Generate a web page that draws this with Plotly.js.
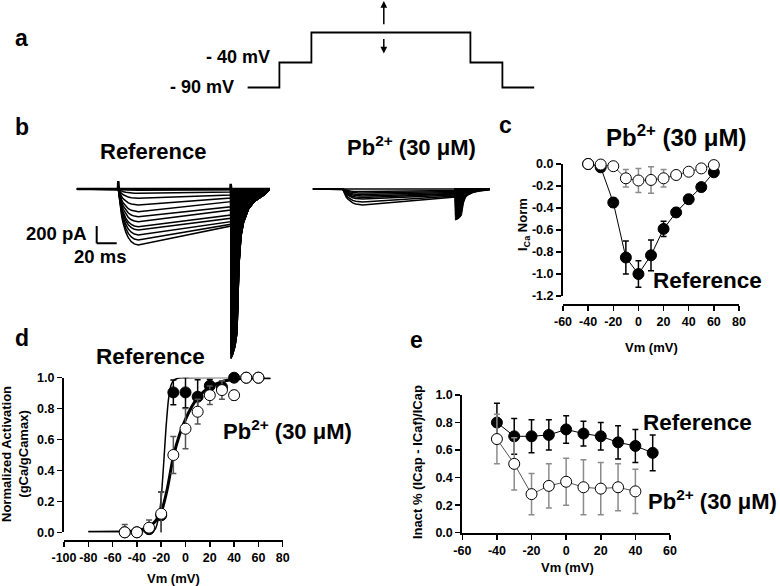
<!DOCTYPE html>
<html>
<head>
<meta charset="utf-8">
<script src="https://cdn.plot.ly/plotly-3.0.1.min.js"></script>
<style>
  html, body { margin: 0; padding: 0; background: #fff; }
  #plot { width: 780px; height: 586px; }
</style>
</head>
<body>
<div id="plot"></div>
<script>
const W = 780, H = 586;
const FONT = 'Arial, "Liberation Sans", sans-serif';

// a: voltage protocol (ms, mV)
const protoT = [0, 32, 32, 64, 64, 223, 223, 255, 255, 287];
const protoV = [-90, -90, -40, -40, 20, 20, -40, -40, -90, -90];

// b: current traces (pA), sorted by size
const refPeak = [-15, -50, -107, -184, -261, -318, -376, -434, -472, -529, -587, -644];
const refEnd  = [-10, -35, -69, -104, -146, -204, -242, -299, -337, -376, -406, -426];
const refTail = [-1300, -1600, -1950, -1900, -1850, -1940, -1800, -1900, -1750, -1940, -1850, -1950];
const pbPeak = [-29, -46, -63, -80, -98, -115, -150, -184];
const pbEnd  = [-17, -29, -40, -52, -58, -69, -80, -92];
const pbTail = [-60, -90, -120, -160, -200, -240, -300, -357];
// time course (fraction of peak / of tail)
const actT = [0, 1, 2, 3.5, 5, 7.5, 10, 13, 16, 20];
const actF = [0, 0.15, 0.32, 0.5, 0.62, 0.77, 0.87, 0.94, 0.98, 1.0];
const tailT = [0.4, 2, 4.5, 6.5, 7.5, 8.5, 10.5, 13, 18, 24, 34, 40];
const tailF = [1, 0.98, 0.93, 0.85, 0.7, 0.45, 0.28, 0.2, 0.12, 0.075, 0.035, 0];
const refArtT = [0, 41.2, 41.6, 42.2, 153.6, 154, 154.6, 193.3];
const refArtI = [0, 0, 90, 0, 0, 60, 0, 0];

// c: normalized I-V
const cV = [-40, -30, -20, -10, 0, 10, 20, 30, 40, 50, 60];
const cRef = [0.0, -0.03, -0.35, -0.85, -1.0, -0.83, -0.59, -0.44, -0.32, -0.21, -0.075];
const cRefErr = [0, 0.01, 0.04, 0.15, 0.12, 0.14, 0.07, 0.04, 0.04, 0.03, 0.02];
const cPb = [0.0, -0.005, -0.02, -0.13, -0.15, -0.145, -0.13, -0.10, -0.07, -0.04, -0.01];
const cPbErr = [0, 0, 0, 0.08, 0.11, 0.12, 0.08, 0.02, 0, 0, 0];
const cXTicks = [-60, -40, -20, 0, 20, 40, 60, 80];
const cYTicks = [0, -0.2, -0.4, -0.6, -0.8, -1.0, -1.2];
const cYText = ["0.0", "-0.2", "-0.4", "-0.6", "-0.8", "-1.0", "-1.2"];

// d: activation
const dV = [-50, -40, -30, -20, -10, 0, 10, 20, 30, 40, 50, 60];
const dRef = [0, 0, 0.02, 0.11, 0.905, 0.905, 0.877, 0.948, 0.94, 1.0, 1.0, 1.0];
const dRefErr = [0, 0, 0.03, 0.15, 0.08, 0.1, 0.11, 0.04, 0.03, 0, 0, 0];
const dPb = [0.0, 0.0, 0.03, 0.12, 0.50, 0.67, 0.78, 0.887, 0.92, 0.887, 1.0, 1.0];
const dPbErr = [0.05, 0.02, 0.05, 0.14, 0.12, 0.13, 0.08, 0.06, 0.06, 0.03, 0, 0];
const fitRefV = [-80, -40, -30, -25, -22, -20, -18, -16, -14, -12, -10, -7, -3, 70];
const fitRef = [0, 0, 0.002, 0.02, 0.1, 0.22, 0.44, 0.68, 0.86, 0.95, 0.98, 0.995, 1, 1];
const fitPbV = [-80, -50, -40, -30, -25, -20, -15, -10, -5, 0, 5, 10, 15, 20, 30, 40, 50, 70];
const fitPb = [0, 0.003, 0.01, 0.035, 0.07, 0.13, 0.28, 0.49, 0.63, 0.73, 0.81, 0.87, 0.91, 0.94, 0.975, 0.99, 0.998, 1.0];
const dXTicks = [-100, -80, -60, -40, -20, 0, 20, 40, 60, 80];
const unitTicks = [0, 0.2, 0.4, 0.6, 0.8, 1.0];
const unitText = ["0.0", "0.2", "0.4", "0.6", "0.8", "1.0"];

// e: inactivation
const eV = [-40, -30, -20, -10, 0, 10, 20, 30, 40, 50];
const eRef = [0.80, 0.70, 0.70, 0.71, 0.75, 0.72, 0.70, 0.656, 0.63, 0.58];
const eRefErr = [0.14, 0.13, 0.12, 0.11, 0.10, 0.09, 0.10, 0.12, 0.12, 0.13];
const ePbV = [-40, -30, -20, -10, 0, 10, 20, 30, 40];
const ePb = [0.68, 0.50, 0.28, 0.34, 0.37, 0.33, 0.32, 0.33, 0.30];
const ePbErr = [0.18, 0.19, 0.15, 0.16, 0.17, 0.2, 0.19, 0.17, 0.16];
const eXTicks = [-60, -40, -20, 0, 20, 40, 60];

const PB = "Pb<sup>2+</sup> (30 μM)";

function hdom(a, b) { return [a / W, b / W]; }
function vdom(top, bottom) { return [1 - bottom / H, 1 - top / H]; }

// one sweep: baseline, activation, decay to end of step
function buildCurrent(peak, end, tOn, tOff, tStop, ax) {
  const x = [0, tOn], y = [0, 0];
  actT.forEach((dt, i) => { x.push(tOn + dt); y.push(peak * actF[i]); });
  x.push(tOff); y.push(end);
  x.push(tOff, tStop); y.push(0, 0);
  return {
    type: "scatter", mode: "lines", x, y, xaxis: "x" + ax, yaxis: "y" + ax,
    line: { color: "black", width: 1.5 }, hoverinfo: "skip"
  };
}

// tail current of a sweep, drawn as a filled area down from baseline
function buildTail(end, tail, tOff, ax) {
  const x = [tOff, tOff], y = [0, end];
  tailT.forEach((dt, i) => { x.push(tOff + dt); y.push(tail * tailF[i]); });
  return {
    type: "scatter", mode: "lines", x, y, xaxis: "x" + ax, yaxis: "y" + ax,
    fill: "toself", fillcolor: "black",
    line: { color: "black", width: 1 }, hoverinfo: "skip"
  };
}

function errTrace(x, y, err, ax, filled, opts) {
  return Object.assign({
    type: "scatter", mode: "markers", x, y, xaxis: "x" + ax, yaxis: "y" + ax,
    cliponaxis: false,
    marker: {
      size: 11, color: filled ? "black" : "white",
      line: { color: "black", width: 1 }
    },
    error_y: { type: "data", array: err, visible: true,
      color: filled ? "black" : "#8c8c8c", thickness: 1.5, width: 3 },
  }, opts || {});
}

const tickFont = { family: FONT, size: 12.5, color: "black", weight: "bold" };

function axis(extra) {
  return Object.assign({
    showline: true, linewidth: 2, linecolor: "black",
    ticks: "outside", ticklen: 5, tickwidth: 1.5, tickcolor: "black",
    showgrid: false, zeroline: false, tickfont: tickFont, tickangle: 0,
    fixedrange: true
  }, extra);
}

function hidden(extra) {
  return Object.assign({ visible: false, fixedrange: true }, extra);
}

const traces = [];

// a
traces.push({ type: "scatter", mode: "lines", x: protoT, y: protoV, xaxis: "x", yaxis: "y",
  line: { color: "black", width: 1.8 }, hoverinfo: "skip" });

// b
traces.push({ type: "scatter", mode: "lines", x: refArtT, y: refArtI, xaxis: "x2", yaxis: "y2",
  line: { color: "black", width: 2.5 }, hoverinfo: "skip" });
refPeak.forEach((p, i) => {
  traces.push(buildCurrent(p, refEnd[i], 41.6, 154, 193.3, 2));
  traces.push(buildTail(refEnd[i], refTail[i], 154, 2));
});
traces.push({ type: "scatter", mode: "lines", x: [0, 177.3], y: [0, 0], xaxis: "x3", yaxis: "y3",
  line: { color: "black", width: 1.5 }, hoverinfo: "skip" });
pbPeak.forEach((p, i) => {
  traces.push(buildCurrent(p, pbEnd[i], 30, 142.3, 177.3, 3));
  traces.push(buildTail(pbEnd[i], pbTail[i], 142.3, 3));
});

// c
traces.push(errTrace(cV, cRef, cRefErr, 4, true, { mode: "lines+markers", line: { color: "black", width: 1 } }));
traces.push(errTrace(cV, cPb, cPbErr, 4, false, { mode: "lines+markers", line: { color: "#555", width: 1 } }));

// d
traces.push({ type: "scatter", mode: "lines", x: fitRefV, y: fitRef, xaxis: "x5", yaxis: "y5",
  line: { color: "black", width: 1.5, shape: "spline", smoothing: 0.6 }, hoverinfo: "skip" });
traces.push({ type: "scatter", mode: "lines", x: fitPbV, y: fitPb, xaxis: "x5", yaxis: "y5",
  line: { color: "black", width: 3, shape: "spline", smoothing: 0.6 }, hoverinfo: "skip" });
traces.push(errTrace(dV, dRef, dRefErr, 5, true));
traces.push(errTrace(dV, dPb, dPbErr, 5, false));
traces[traces.length - 1].error_y.color = "#555";

// e
traces.push(errTrace(eV, eRef, eRefErr, 6, true, { mode: "lines+markers", line: { color: "black", width: 1 } }));
traces.push(errTrace(ePbV, ePb, ePbErr, 6, false, { mode: "lines+markers", line: { color: "#555", width: 1 } }));

function txt(text, x, y, size, extra) {
  return Object.assign({
    text, x: x / W, y: 1 - y / H, xref: "paper", yref: "paper",
    xanchor: "center", yanchor: "middle", showarrow: false,
    font: { family: FONT, size, color: "black", weight: "bold" }
  }, extra || {});
}

function arrow(x, yTip, dy) {
  return { text: "", x: x / W, y: 1 - yTip / H, xref: "paper", yref: "paper",
    showarrow: true, ax: 0, ay: dy, arrowhead: 2, arrowsize: 0.9, arrowwidth: 1.5, arrowcolor: "black" };
}

const annotations = [
  txt("a", 21.4, 38, 23), txt("b", 21.7, 127, 23), txt("c", 505, 125, 23),
  txt("d", 21.7, 338, 23), txt("e", 416.7, 340, 23),
  txt("- 40 mV", 272, 57, 18, { xanchor: "right" }),
  txt("- 90 mV", 235.6, 87.5, 18, { xanchor: "right" }),
  arrow(383.8, 1, 24.7), arrow(383.8, 53.6, -16),
  txt("Reference", 153, 152, 22), txt(PB, 411, 146, 22),
  txt("200 pA", 89.3, 233.3, 18.5, { xanchor: "right" }),
  txt("20 ms", 100, 256.7, 18.5),
  txt(PB, 676, 136, 24), txt("Reference", 707, 280, 22.5),
  txt("I<sub>Ca</sub> Norm", 523, 225, 13, { textangle: -90 }),
  txt("Vm (mV)", 651.7, 347.7, 13),
  txt("Reference", 150, 356.7, 22.5), txt(PB, 287.5, 430, 22),
  txt("Normalized Activation<br>(gCa/gCamax)", 15, 454, 13, { textangle: -90 }),
  txt("Vm (mV)", 173.3, 578.3, 13),
  txt("Reference", 697, 422.3, 22.5), txt(PB, 712.8, 500, 22),
  txt("Inact % (ICap - ICaf)/ICap", 417, 462, 13, { textangle: -90 }),
  txt("Vm (mV)", 567.5, 567.7, 13)
];

const shapes = [
  { type: "line", xref: "x2", yref: "y2", x0: 20, x1: 20, y0: -425, y1: -625, line: { color: "black", width: 2 } },
  { type: "line", xref: "x2", yref: "y2", x0: 20, x1: 40, y0: -625, y1: -625, line: { color: "black", width: 2 } }
];

const bRange = [-1989.5, 218.5];

const layout = {
  width: W, height: H,
  margin: { l: 0, r: 0, t: 0, b: 0 },
  paper_bgcolor: "white", plot_bgcolor: "rgba(0,0,0,0)",
  showlegend: false,
  font: { family: FONT, color: "black" },
  xaxis: hidden({ domain: hdom(247.4, 534.4), range: [0, 287], anchor: "y" }),
  yaxis: hidden({ domain: vdom(10, 100), range: [-115, 65], anchor: "x" }),
  xaxis2: hidden({ domain: hdom(76.7, 270), range: [0, 193.3], anchor: "y2" }),
  yaxis2: hidden({ domain: vdom(170, 362), range: bRange, anchor: "x2" }),
  xaxis3: hidden({ domain: hdom(312.7, 490), range: [0, 177.3], anchor: "y3" }),
  yaxis3: hidden({ domain: vdom(170, 362), range: bRange, anchor: "x3" }),
  xaxis4: axis({ domain: hdom(563, 739), range: [-60, 80], anchor: "free", position: 1 - 305 / H,
    tickvals: cXTicks, ticktext: cXTicks.map(String) }),
  yaxis4: axis({ domain: vdom(164, 296), range: [-1.2, 0], anchor: "x4",
    tickvals: cYTicks, ticktext: cYText }),
  xaxis5: axis({ domain: hdom(64, 282.7), range: [-100, 80], anchor: "free", position: 1 - 541 / H,
    tickvals: dXTicks, ticktext: dXTicks.map(String) }),
  yaxis5: axis({ domain: vdom(377.7, 532.3), range: [0, 1], anchor: "x5",
    tickvals: unitTicks, ticktext: unitText }),
  xaxis6: axis({ domain: hdom(462.3, 670), range: [-60, 60], anchor: "y6",
    tickvals: eXTicks, ticktext: eXTicks.map(String) }),
  yaxis6: axis({ domain: vdom(395, 532.7), range: [0, 1], anchor: "x6",
    tickvals: unitTicks, ticktext: unitText }),
  annotations, shapes
};

Plotly.newPlot("plot", traces, layout, { staticPlot: true, displayModeBar: false });
</script>
</body>
</html>
